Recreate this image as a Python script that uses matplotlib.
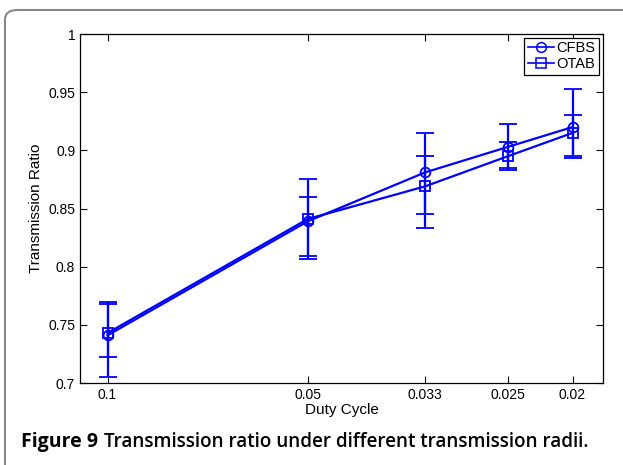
import matplotlib.pyplot as plt
from matplotlib.patches import FancyBboxPatch
from matplotlib.lines import Line2D
import numpy as np

# Datos
duty = [0.1, 0.05, 1 / 30, 0.025, 0.02]
tick_labels = ['0.1', '0.05', '0.033', '0.025', '0.02']

cfbs = [0.741, 0.839, 0.881, 0.903, 0.920]
cfbs_hi = [0.770, 0.875, 0.915, 0.923, 0.953]
cfbs_lo = [0.705, 0.807, 0.845, 0.883, 0.893]

otab = [0.743, 0.841, 0.869, 0.895, 0.915]
otab_hi = [0.768, 0.860, 0.895, 0.907, 0.930]
otab_lo = [0.722, 0.809, 0.833, 0.885, 0.895]

plt.rcParams['font.family'] = ['Liberation Sans', 'DejaVu Sans']

fig = plt.figure(figsize=(6.23, 4.65), dpi=100)
ax = fig.add_axes([80 / 623, 1 - 383 / 465, 523 / 623, 349 / 465])

color = '#0000ff'
handles = []
for y, hi, lo, mk, lab in [(cfbs, cfbs_hi, cfbs_lo, 'o', 'CFBS'),
                           (otab, otab_hi, otab_lo, 's', 'OTAB')]:
    y = np.array(y)
    yerr = [y - np.array(lo), np.array(hi) - y]
    ax.errorbar(duty, y, yerr=yerr, color=color, marker=mk, markersize=7,
                markerfacecolor='none', markeredgewidth=1.3, linewidth=1.6,
                elinewidth=1.6, capsize=6.5, capthick=1.6)
    handles.append(Line2D([], [], color=color, marker=mk, markersize=7,
                          markerfacecolor='none', markeredgewidth=1.1,
                          linewidth=1.2, label=lab))

ax.set_xscale('log')
ax.set_xlim(0.11, 0.018)
ax.set_ylim(0.7, 1.0)
ax.set_xticks(duty)
ax.set_xticklabels(tick_labels)
ax.minorticks_off()
ax.set_yticks([0.7, 0.75, 0.8, 0.85, 0.9, 0.95, 1.0])
ax.set_yticklabels(['0.7', '0.75', '0.8', '0.85', '0.9', '0.95', '1'])
ax.tick_params(direction='in', top=True, right=True, labelsize=10, length=5,
               width=0.8)
for s in ax.spines.values():
    s.set_linewidth(0.9)
ax.set_xlabel('Duty Cycle', fontsize=11, labelpad=1)
ax.set_ylabel('Transmission Ratio', fontsize=11)

leg = ax.legend(handles=handles, loc='upper right', fontsize=10.5, fancybox=False,
                edgecolor='black', handlelength=1.8, borderpad=0.25,
                labelspacing=0.15, handletextpad=0.2, borderaxespad=0.25,
                framealpha=1)
leg.get_frame().set_linewidth(0.9)

# Marco redondeado alrededor de la figura
frame = FancyBboxPatch((5 / 623, -0.1), 1.1, 1.1 - 10 / 465,
                       boxstyle='round,pad=0,rounding_size=0.02',
                       transform=fig.transFigure, fill=False,
                       edgecolor='#888888', linewidth=1.5)
fig.patches.append(frame)

fig.text(21 / 623, 1 - 442 / 465, 'Figure 9', fontsize=14, fontweight='bold',
         family='Open Sans', va='center', ha='left')
fig.text(104 / 623, 1 - 442 / 465, 'Transmission ratio under different transmission radii.',
         fontsize=13.6, fontweight='semibold', family='Open Sans', va='center', ha='left')

fig.savefig('out.png', dpi=100)
